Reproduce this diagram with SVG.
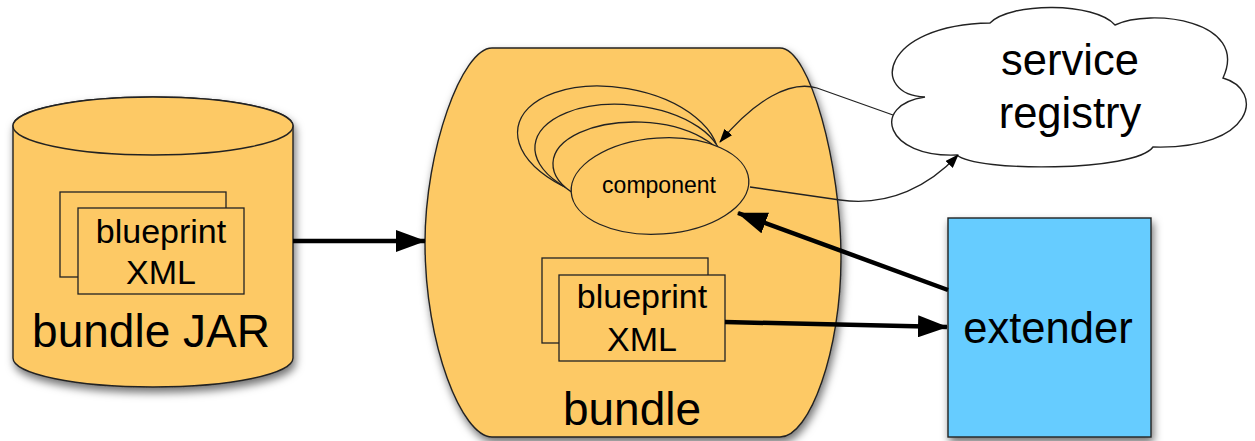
<svg xmlns="http://www.w3.org/2000/svg" width="1255" height="441" viewBox="0 0 1255 441">
<style>
.o{fill:#FDC965;stroke:#222;stroke-width:1.4}
.w{fill:#FDC965;stroke:#222;stroke-width:1.3}
.t{font-family:"Liberation Sans",Arial,sans-serif;fill:#000;text-anchor:middle}
.thin{fill:none;stroke:#222;stroke-width:1.3}
.thick{fill:none;stroke:#000;stroke-width:4.5}
</style>
<defs>
<filter id="sh" x="-10%" y="-10%" width="130%" height="130%">
<feDropShadow dx="2" dy="5" stdDeviation="4" flood-color="#000" flood-opacity="0.55"/>
</filter>
<marker id="big" viewBox="0 0 30 22" refX="29" refY="11" markerWidth="30" markerHeight="22" markerUnits="userSpaceOnUse" orient="auto">
<path d="M0,0 L30,11 L0,22 Z" fill="#000"/>
</marker>
<marker id="small" viewBox="0 0 14 10" refX="13" refY="5" markerWidth="14" markerHeight="10" markerUnits="userSpaceOnUse" orient="auto">
<path d="M0,0 L14,5 L0,10 Z" fill="#000"/>
</marker>
</defs>

<g id="bundle-jar">
<path class="o" filter="url(#sh)" d="M13 126 L13 358 A140 29 0 0 0 293 358 L293 126 A140 29 0 0 0 13 126 Z"/>
<ellipse class="o" cx="153" cy="126" rx="140" ry="29"/>
<rect class="w" x="60" y="192" width="166" height="85"/>
<rect class="w" x="78" y="208" width="166" height="86"/>
<text class="t" x="161" y="243" font-size="34">blueprint</text>
<text class="t" x="161" y="284" font-size="34">XML</text>
<text class="t" x="151" y="347" font-size="46">bundle JAR</text>
</g>

<g id="bundle">
<path class="o" filter="url(#sh)" d="M492 48 L780 48 C810 48 841 165 841 258 C841 350 810 437 780 437 L492 437 C462 437 425 345 425 243 C425 150 462 48 492 48 Z"/>
<ellipse class="w" cx="618" cy="144.5" rx="101.5" ry="56.7" transform="rotate(9.8 618 144.5)"/>
<ellipse class="w" cx="628.5" cy="155" rx="94" ry="50" transform="rotate(6.1 628.5 155)"/>
<ellipse class="w" cx="639.5" cy="166.5" rx="86.6" ry="44.4" transform="rotate(2.3 639.5 166.5)"/>
<ellipse class="w" cx="660" cy="186" rx="89" ry="48" transform="rotate(-4 660 186)"/>
<text class="t" x="659" y="193" font-size="23">component</text>
<rect class="w" x="542" y="258" width="166" height="85"/>
<rect class="w" x="559" y="275" width="166" height="86"/>
<text class="t" x="642" y="308" font-size="34">blueprint</text>
<text class="t" x="642" y="351" font-size="34">XML</text>
<text class="t" x="632" y="425" font-size="46">bundle</text>
</g>

<g id="service-registry">
<path fill="#fff" stroke="#222" stroke-width="1.4" d="M925 97 C870 95 880 25 990 23 C1010 2 1095 2 1115 25 C1150 8 1250 20 1223 78 C1265 90 1255 150 1153 147 C1135 172 975 172 957 155 C885 158 870 105 925 97 Z"/>
<text class="t" x="1070" y="75" font-size="43.5">service</text>
<text class="t" x="1070" y="128" font-size="43.5">registry</text>
</g>

<g id="extender">
<rect x="948" y="218" width="203" height="219" fill="#66CCFF" stroke="#222" stroke-width="1.4" filter="url(#sh)"/>
<text class="t" x="1048" y="343" font-size="43.5">extender</text>
</g>

<g id="connectors">
<path class="thick" d="M293 241 L425 241" marker-end="url(#big)"/>
<path class="thin" d="M893 115 L817 88 C790 80 755 100 720 142" marker-end="url(#small)"/>
<path class="thin" d="M750 187 L840 200 C890 207 930 185 958 155" marker-end="url(#small)"/>
<path class="thick" d="M948 290 L738 213" marker-end="url(#big)"/>
<path class="thick" d="M725 322 L947 327" marker-end="url(#big)"/>
</g>
</svg>
